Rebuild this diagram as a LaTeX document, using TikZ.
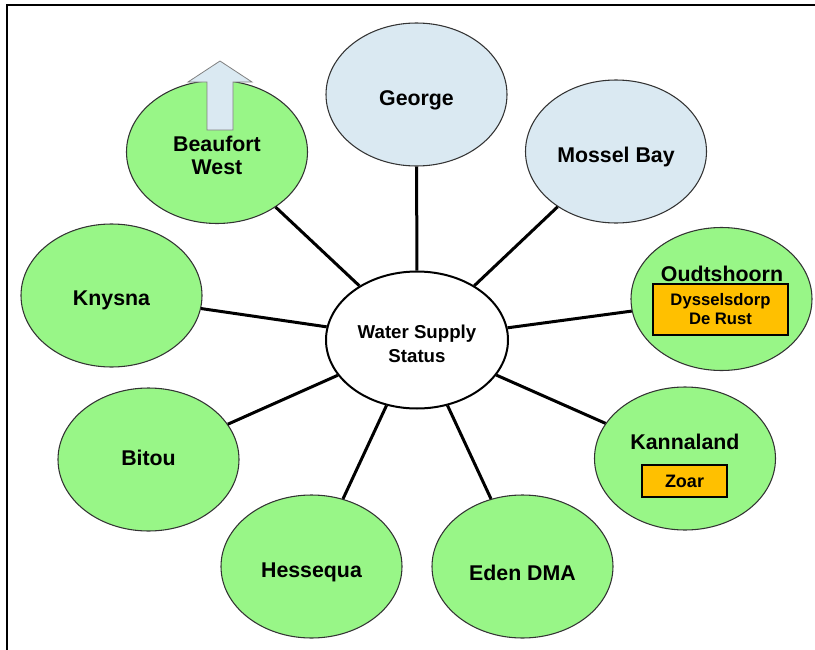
\documentclass[tikz,border=0pt]{standalone}
\usepackage{fontspec}
\setmainfont{Liberation Sans}
\usepackage{xcolor}
\usepackage{tikz}
\usetikzlibrary{shapes.geometric}
\definecolor{towngreen}{HTML}{98F687}
\definecolor{townblue}{HTML}{DAE9F2}
\definecolor{flagorange}{HTML}{FFC000}
\definecolor{rimgray}{HTML}{333333}

\begin{document}
\begin{tikzpicture}[
  x=0.75pt, y=-0.75pt,
  town/.style={ellipse, draw=rimgray, line width=0.8pt, inner sep=0pt,
    minimum width=135.75pt, minimum height=107.25pt, align=center,
    text height=16.8pt, text depth=0pt,
    font=\fontsize{16}{17.25}\selectfont\bfseries},
  greentown/.style={town, fill=towngreen},
  bluetown/.style={town, fill=townblue},
  hub/.style={ellipse, draw=black, line width=1.5pt, fill=white, inner sep=0pt,
    minimum width=136.5pt, minimum height=102.75pt, align=center,
    text height=34pt, text depth=0pt,
    font=\fontsize{14}{18}\selectfont\bfseries},
  spoke/.style={line width=2.25pt, black},
  flagbox/.style={draw=black, fill=flagorange, inner sep=0pt, align=center}
]
\useasboundingbox (0,0) rectangle (815,650);
\draw[line width=1.5pt] (6.5,650) -- (6.5,5) -- (815,5);

% centre and towns
\node[hub] (status) at (417,340) {Water Supply\\Status};
\node[bluetown] (george) at (416.5,94.5) {George};
\node[bluetown] (mossel) at (616,151.5) {Mossel Bay};
\node[greentown] (oudtshoorn) at (721.5,299) {};
\node[greentown] (kannaland) at (685,458.5) {};
\node[greentown, text height=21.3pt] (eden) at (522.5,566.5) {Eden DMA};
\node[greentown] (hessequa) at (311.5,566.5) {Hessequa};
\node[greentown, text height=9.3pt] (bitou) at (148.5,459.5) {Bitou};
\node[greentown, text height=15.3pt] (knysna) at (111.5,295.5) {Knysna};
\node[greentown, text height=34pt] (beaufort) at (217,152) {Beaufort\\West};

% sub-areas
\node[font=\fontsize{16}{17.5}\selectfont\bfseries] (oudtname) at (722,274) {Oudtshoorn};
\node[flagbox, line width=1.5pt, minimum width=101.25pt, minimum height=38.25pt,
  font=\fontsize{12.5}{14.25}\selectfont\bfseries] (oudtbox) at (720.5,309.5) {Dysselsdorp\\De Rust};
\node[font=\fontsize{16}{17.5}\selectfont\bfseries] (kannaname) at (685,442) {Kannaland};
\node[flagbox, line width=0.8pt, minimum width=63.75pt, minimum height=24pt,
  font=\fontsize{13.5}{15}\selectfont\bfseries] (zoarbox) at (684.5,481) {Zoar};

% growth arrow
\draw[draw=gray, fill=townblue, line width=0.6pt]
  (207,130) -- (207,82) -- (188,82) -- (220,61) -- (252,82) -- (233,82) -- (233,130) -- cycle;

% spokes
\foreach \t in {george,mossel,oudtshoorn,kannaland,eden,hessequa,bitou,knysna,beaufort}
  \draw[spoke] (status) -- (\t);
\end{tikzpicture}
\end{document}
